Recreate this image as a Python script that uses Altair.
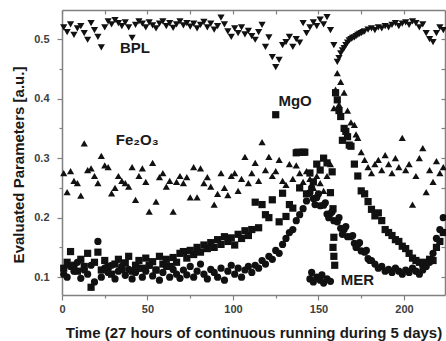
import altair as alt
import pandas as pd

# sampling times (hours index)
time = list(range(1, 224, 2))

bpl = [
    0.520, 0.512, 0.525, 0.507, 0.518, 0.522, 0.510, 0.499, 0.527, 0.515,
    0.504, 0.486, 0.520, 0.530, 0.525, 0.532, 0.527, 0.522, 0.528, 0.520,
    0.502, 0.524, 0.530, 0.526, 0.520, 0.528, 0.523, 0.518, 0.526, 0.530,
    0.522, 0.527, 0.519, 0.525, 0.530, 0.523, 0.527, 0.521, 0.526, 0.518,
    0.524, 0.529, 0.520, 0.526, 0.516, 0.522, 0.536, 0.525, 0.513, 0.504,
    0.518, 0.510, 0.520, 0.508, 0.514, 0.505, 0.499, 0.512, 0.524, 0.487,
    0.503, 0.470, 0.453, 0.465, 0.490, 0.495, 0.504, 0.487, 0.500, 0.494,
    0.527, 0.510, 0.520, 0.528, 0.522, 0.533, 0.525, 0.537, 0.515, 0.490,
    0.462, 0.476, 0.485, 0.494, 0.500, 0.503, 0.507, 0.510, 0.513, 0.516,
    0.518, 0.515, 0.520, 0.518, 0.522, 0.520, 0.524, 0.527, 0.522, 0.526,
    0.528, 0.524, 0.530, 0.527, 0.520, 0.525, 0.510, 0.500, 0.495, 0.510,
    0.520, 0.515,
]

fe2o3 = [
    0.275, 0.243, 0.278, 0.262, 0.258, 0.237, 0.325, 0.280, 0.283, 0.270,
    0.258, 0.304, 0.288, 0.285, 0.241, 0.250, 0.270, 0.262, 0.258, 0.252,
    0.285, 0.230, 0.270, 0.283, 0.260, 0.210, 0.292, 0.227, 0.268, 0.275,
    0.252, 0.262, 0.210, 0.260, 0.270, 0.258, 0.268, 0.234, 0.285, 0.234,
    0.283, 0.258, 0.268, 0.252, 0.222, 0.240, 0.275, 0.250, 0.238, 0.270,
    0.275, 0.245, 0.265, 0.302, 0.258, 0.275, 0.292, 0.262, 0.327, 0.280,
    0.302, 0.270, 0.278, 0.297, 0.262, 0.255, 0.290, 0.265, 0.288, 0.275,
    0.260, 0.278, 0.265, 0.250, 0.270, 0.258, 0.245, 0.270, 0.290, 0.384,
    0.443, 0.428, 0.410, 0.380, 0.360, 0.356, 0.334, 0.310, 0.297, 0.285,
    0.275, 0.290, 0.297, 0.280, 0.305, 0.290, 0.275, 0.300, 0.285, 0.334,
    0.280, 0.290, 0.222, 0.270, 0.300, 0.317, 0.243, 0.280, 0.260, 0.295,
    0.275, 0.285,
]

mgo = [
    0.115, 0.125, 0.143, 0.120, 0.110, 0.130, 0.118, 0.140, 0.083, 0.125,
    0.142, 0.112, 0.128, 0.118, 0.105, 0.122, 0.130, 0.113, 0.124, 0.135,
    0.110, 0.120, 0.128, 0.115, 0.132, 0.120, 0.126, 0.112, 0.135, 0.122,
    0.130, 0.118, 0.133, 0.125, 0.140, 0.143, 0.132, 0.145, 0.138, 0.150,
    0.142, 0.154, 0.148, 0.158, 0.150, 0.163, 0.155, 0.168, 0.160, 0.166,
    0.154, 0.172, 0.165, 0.178, 0.170, 0.180, 0.226, 0.183, 0.222, 0.205,
    0.200, 0.230, 0.373, 0.193, 0.241, 0.202, 0.222, 0.216, 0.309, 0.250,
    0.310, 0.240, 0.275, 0.260, 0.290, 0.280, 0.300, 0.292, 0.242, 0.167,
    0.398, 0.370, 0.350, 0.336, 0.320, 0.290, 0.270, 0.245, 0.240, 0.227,
    0.214, 0.203, 0.208, 0.195, 0.180, 0.175, 0.170, 0.163, 0.160, 0.152,
    0.148, 0.140, 0.132, 0.128, 0.125, 0.122, 0.125, 0.130, 0.128, 0.150,
    0.160, 0.175,
]

mer = [
    0.105, 0.100, 0.118, 0.110, 0.125, 0.098, 0.112, 0.105, 0.120, 0.092,
    0.160, 0.100, 0.115, 0.108, 0.120, 0.097, 0.110, 0.118, 0.103, 0.113,
    0.097, 0.108, 0.115, 0.100, 0.110, 0.120, 0.102, 0.112, 0.095, 0.108,
    0.118, 0.100, 0.113, 0.105, 0.098, 0.112, 0.104, 0.118, 0.100, 0.110,
    0.122, 0.105, 0.097, 0.113, 0.108, 0.100, 0.115, 0.095, 0.110, 0.120,
    0.105, 0.115, 0.100, 0.112, 0.118, 0.108, 0.120, 0.115, 0.128, 0.122,
    0.135, 0.130, 0.145, 0.140, 0.155, 0.165, 0.175, 0.180, 0.195, 0.205,
    0.215, 0.228, 0.242, 0.232, 0.234, 0.220, 0.221, 0.206, 0.207, 0.195,
    0.193, 0.182, 0.180, 0.168, 0.168, 0.157, 0.155, 0.144, 0.142, 0.131,
    0.128, 0.122, 0.115, 0.118, 0.110, 0.113, 0.108, 0.115, 0.110, 0.105,
    0.112, 0.108, 0.115, 0.110, 0.105, 0.112, 0.118, 0.125, 0.140, 0.165,
    0.180, 0.200,
]

# additional samples around the disturbance near t = 145-182
extra_time = [145, 147, 149, 151, 153, 155, 157, 146, 152,
              158, 158.5, 158.5, 159, 159.5, 160, 162, 164, 166, 168, 142, 138,
              160, 162, 172,
              146, 150, 154, 158, 162, 166, 170, 174, 178, 148, 156, 164, 172, 180,
              162, 164, 166, 168, 170, 172, 174, 176]
extra_value = [0.097, 0.092, 0.100, 0.095, 0.090, 0.097, 0.093, 0.108, 0.104,
               0.277, 0.215, 0.150, 0.135, 0.120, 0.410, 0.380, 0.330, 0.345, 0.322, 0.310, 0.310,
               0.415, 0.390, 0.340,
               0.250, 0.240, 0.225, 0.210, 0.200, 0.185, 0.170, 0.158, 0.145, 0.222, 0.200, 0.172, 0.150, 0.128,
               0.468, 0.481, 0.490, 0.498, 0.502, 0.505, 0.509, 0.512]
extra_series = (["MER"] * 9 + ["MgO"] * 12 + ["Fe2O3"] * 3 + ["MER"] * 14 + ["BPL"] * 8)

series_names = ["BPL", "Fe2O3", "MgO", "MER"]
shapes = ["triangle-down", "triangle-up", "square", "circle"]
sizes = [52, 52, 32, 36]

ann_text = ["BPL", "MgO", "MER", "Fe\u2082O\u2083"]
ann_x = [42.7, 136.3, 172.8, 44.0]
ann_y = [0.4845, 0.396, 0.0955, 0.331]

x_ticks = [0, 25, 50, 75, 100, 125, 150, 175, 200]
y_ticks = [0.1, 0.15, 0.2, 0.25, 0.3, 0.35, 0.4, 0.45, 0.5]

rows = []
for name, vals in zip(series_names, [bpl, fe2o3, mgo, mer]):
    rows += [{"t": t, "v": v, "s": name} for t, v in zip(time, vals)]
rows += [{"t": t, "v": v, "s": s} for t, v, s in zip(extra_time, extra_value, extra_series)]
df = pd.DataFrame(rows)
ann = pd.DataFrame({"label": ann_text, "x": ann_x, "y": ann_y})

FONT = "Liberation Sans"
GRAY = "#808080"
x_major = "datum.value % 50 == 0"
y_major = "abs(datum.value * 10 - round(datum.value * 10)) < 0.001"

xscale = alt.Scale(domain=[0, 224], nice=False, zero=False)
yscale = alt.Scale(domain=[0.07, 0.549], nice=False, zero=False)

x_bottom = alt.Axis(
    values=x_ticks, labelExpr=f"{x_major} ? datum.label : ''",
    tickSize={"condition": {"test": x_major, "value": 5}, "value": 3},
    labelPadding=3, labelFontSize=11, labelFont=FONT, labelFontWeight="bold",
    labelColor="#404040", labelFlush=False,
    title="Time (27 hours of continuous running during 5 days)",
    titleFont=FONT, titleFontSize=15, titleFontWeight="bold", titleColor="#1a1a1a",
    titleY=42, titleBaseline="alphabetic",
)
y_left = alt.Axis(
    values=y_ticks, labelExpr=f"{y_major} ? format(datum.value, '.1f') : ''",
    tickSize={"condition": {"test": y_major, "value": 5}, "value": 3},
    labelPadding=8, labelFontSize=11, labelFont=FONT, labelFontWeight="bold",
    labelColor="#404040",
    title="Evaluated Parameters [a.u.]",
    titleFont=FONT, titleFontSize=15, titleFontWeight="bold", titleColor="#1a1a1a",
    titleAngle=270, titleX=-43.5, titleY=154.5, titleAlign="center", titleBaseline="middle",
)
x_top = alt.Axis(orient="top", values=x_ticks, labels=False, title=None,
                 tickSize={"expr": "-4"})
y_right = alt.Axis(orient="right", values=y_ticks, labels=False, title=None,
                   tickSize={"expr": "-4"})

points = alt.Chart(df).mark_point(filled=True, opacity=1, color="#111111", strokeWidth=0).encode(
    x=alt.X("t:Q", scale=xscale, axis=x_bottom),
    y=alt.Y("v:Q", scale=yscale, axis=y_left),
    shape=alt.Shape("s:N", scale=alt.Scale(domain=series_names, range=shapes), legend=None),
    size=alt.Size("s:N", scale=alt.Scale(domain=series_names, range=sizes), legend=None),
)

mirror = alt.Chart(df).mark_point(opacity=0).encode(
    x=alt.X("t:Q", scale=xscale, axis=x_top),
    y=alt.Y("v:Q", scale=yscale, axis=y_right),
)

labels = alt.Chart(ann).mark_text(font=FONT, fontWeight="bold", fontSize=15, color="#1a1a1a").encode(
    x=alt.X("x:Q", scale=xscale, axis=None),
    y=alt.Y("y:Q", scale=yscale, axis=None),
    text="label:N",
)

chart = alt.layer(points, labels, mirror).resolve_axis(
    x="independent", y="independent"
).properties(
    width=383, height=285,
    autosize=alt.AutoSizeParams(type="none"),
    padding={"left": 62, "top": 10, "right": 1, "bottom": 46},
).configure_view(stroke=None).configure_axis(
    grid=False, domainColor=GRAY, domainWidth=1.5, tickColor=GRAY, tickWidth=1.2,
)

chart.save("out.html", embed_options={"renderer": "svg", "actions": False})
